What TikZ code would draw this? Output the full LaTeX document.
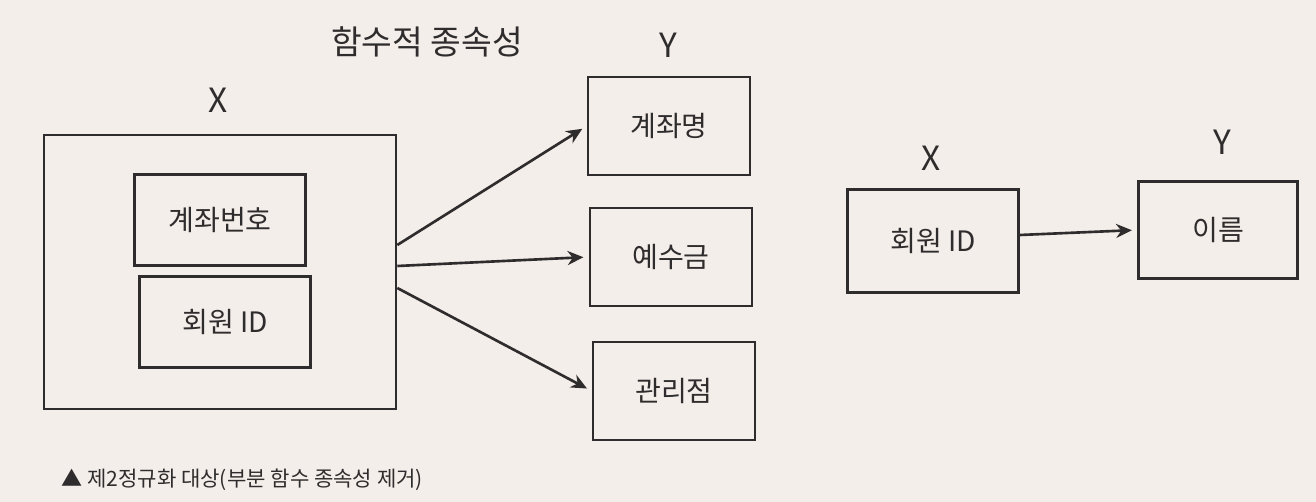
\documentclass[tikz,border=0pt]{standalone}
\usepackage{fontspec}
\setmainfont{Noto Sans CJK KR}
\usetikzlibrary{arrows.meta,positioning}
\definecolor{ink}{HTML}{2E2C2C}
\definecolor{paper}{HTML}{F4EEEA}
\tikzset{
  box/.style={rectangle, draw=ink, line width=1.5pt, inner sep=0pt, text=ink,
    font=\fontsize{16}{18}\selectfont, minimum width=3.24cm, minimum height=1.96cm},
  inbox/.style={box, minimum width=3.42cm, minimum height=1.82cm},
  grpbox/.style={box, minimum width=7.04cm, minimum height=5.48cm},
  lbl/.style={text=ink, inner sep=0pt, font=\fontsize{19}{22}\selectfont},
  link/.style={-{Stealth[length=9pt, width=8pt]}, line width=1.5pt, draw=ink, shorten >=3pt},
}
\begin{document}
\begin{tikzpicture}[x=0.02cm, y=-0.02cm]
  \fill[paper] (0,0) rectangle (1316,502);
  \useasboundingbox (0,0) rectangle (1316,502);
  % left: partial dependency
  \node[lbl] (title) at (427,42) {함수적 종속성};
  \node[lbl] (xl) at (218,100) {X};
  \node[lbl] (yl) at (668,45) {Y};
  \node[grpbox] (grp) at (220,272) {};
  \node[inbox] (acno) at (220,220) {계좌번호};
  \node[inbox] (mid) at (225,322) {회원 ID};
  \node[box] (acname) at (669,126) {계좌명};
  \node[box] (deposit) at (671,257) {예수금};
  \node[box] (branch) at (674,391) {관리점};
  \draw[link] ([yshift=0.54cm]grp.east) -- (acname.west);
  \draw[link] ([yshift=0.12cm]grp.east) -- (deposit.west);
  \draw[link] ([yshift=-0.32cm]grp.east) -- (branch.west);
  % right: full dependency
  \node[lbl] (xr) at (931,158) {X};
  \node[lbl] (yr) at (1222,142) {Y};
  \node[box, minimum width=3.42cm, minimum height=2.06cm] (mid2) at (933,241) {회원 ID};
  \node[box, minimum width=3.18cm, minimum height=1.94cm] (name) at (1218,230) {이름};
  \draw[link] ([yshift=0.12cm]mid2.east) -- (name.west);
  \node[text=ink, inner sep=0pt, anchor=west, font=\fontsize{12}{14}\selectfont] (cap) at (61,480) {▲ 제2정규화 대상(부분 함수 종속성 제거)};
\end{tikzpicture}
\end{document}
